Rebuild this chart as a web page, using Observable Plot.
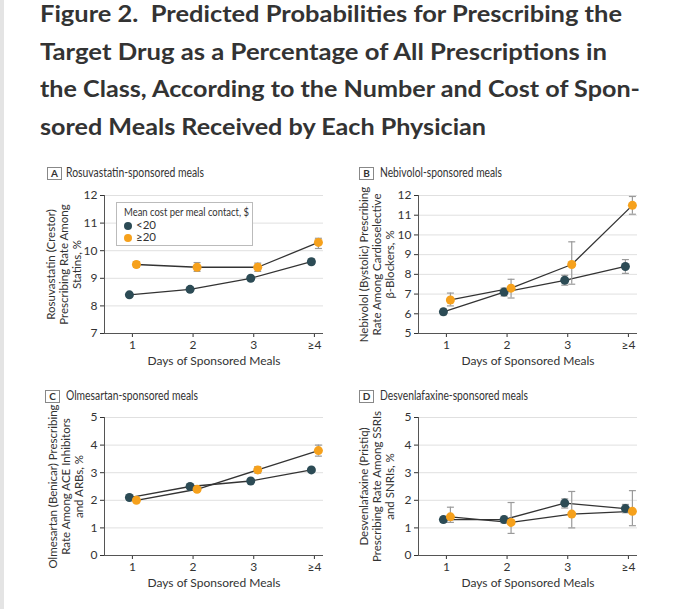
<!DOCTYPE html>
<html><head><meta charset="utf-8">
<script src="https://cdn.jsdelivr.net/npm/d3@7"></script>
<script src="https://cdn.jsdelivr.net/npm/@observablehq/plot@0.6"></script>
<style>
body{margin:0;background:#fff;font-family:Lato,"Noto Sans",sans-serif;color:#333}
#wrap{position:relative;width:680px;height:609px;overflow:hidden}
#strip{position:absolute;left:0;top:0;width:4px;height:609px;background:#e4e4e4}
.tl{position:absolute;left:40px;margin:0;font-size:22.5px;line-height:22.5px;font-weight:bold;color:#333;white-space:nowrap;transform-origin:0 0}
.hdr{position:absolute;font-size:12.5px;color:#333;white-space:nowrap;height:14px}
.hdr .box{position:absolute;left:0;top:0;width:13px;height:11px;border:1px solid #888;text-align:center;font-weight:bold;font-size:10px;line-height:11px}
.hdr .t{position:absolute;top:-1px;transform-origin:0 0;line-height:14px}
.panel{position:absolute}
#legend{position:absolute;left:116px;top:202px;width:137px;height:44px;border:1px solid #bbb;background:#fff;font-size:11.5px;line-height:12px;padding:0;box-sizing:border-box}
#legend .row{position:absolute;left:7px;white-space:nowrap;transform-origin:0 0}
#legend .dot{display:inline-block;width:8px;height:8px;border-radius:50%;margin-right:4px;vertical-align:-1px}
</style></head>
<body><div id="wrap">
<div id="strip"></div>
</div>
<script>
// ---- data ----
const titleLines = [
  "Figure 2.\u00a0 Predicted Probabilities for Prescribing the",
  "Target Drug as a Percentage of All Prescriptions in",
  "the Class, According to the Number and Cost of Spon-",
  "sored Meals Received by Each Physician"
];
const days = [1, 2, 3, 4];
const dayLabels = ["1", "2", "3", "≥4"];
const groups = ["<20", "≥20"];
const legendTitle = "Mean cost per meal contact, $";
const xTitle = "Days of Sponsored Meals";

const panelLetters = ["A", "B", "C", "D"];
const panelTitles = ["Rosuvastatin-sponsored meals", "Nebivolol-sponsored meals", "Olmesartan-sponsored meals", "Desvenlafaxine-sponsored meals"];
const yLabels = [
  "Rosuvastatin (Crestor)\nPrescribing Rate Among\nStatins, %",
  "Nebivolol (Bystolic) Prescribing\nRate Among Cardioselective\nβ-Blockers, %",
  "Olmesartan (Benicar) Prescribing\nRate Among ACE Inhibitors\nand ARBs, %",
  "Desvenlafaxine (Pristiq)\nPrescribing Rate Among SSRIs\nand SNRIs, %"
];
const yTicksA = [7, 8, 9, 10, 11, 12];
const yTicksB = [5, 6, 7, 8, 9, 10, 11, 12];
const yTicksC = [0, 1, 2, 3, 4, 5];
const yTicksD = [0, 1, 2, 3, 4, 5];

// A: Rosuvastatin
const rosuLowEst = [8.4, 8.6, 9.0, 9.6];
const rosuLowLo  = [8.33, 8.53, 8.93, 9.5];
const rosuLowHi  = [8.47, 8.67, 9.07, 9.7];
const rosuHighEst = [9.5, 9.4, 9.4, 10.3];
const rosuHighLo  = [9.4, 9.25, 9.25, 10.08];
const rosuHighHi  = [9.6, 9.57, 9.55, 10.45];
// B: Nebivolol
const nebiLowEst = [6.1, 7.1, 7.7, 8.4];
const nebiLowLo  = [5.95, 6.9, 7.45, 8.05];
const nebiLowHi  = [6.25, 7.3, 7.95, 8.75];
const nebiHighEst = [6.7, 7.3, 8.5, 11.5];
const nebiHighLo  = [6.4, 6.8, 7.5, 11.05];
const nebiHighHi  = [7.05, 7.75, 9.65, 11.95];
// C: Olmesartan
const olmeLowEst = [2.1, 2.5, 2.7, 3.1];
const olmeLowLo  = [2.05, 2.45, 2.65, 3.03];
const olmeLowHi  = [2.15, 2.55, 2.75, 3.17];
const olmeHighEst = [2.0, 2.4, 3.1, 3.8];
const olmeHighLo  = [1.95, 2.33, 2.98, 3.6];
const olmeHighHi  = [2.05, 2.47, 3.22, 4.0];
// D: Desvenlafaxine
const desvLowEst = [1.3, 1.3, 1.9, 1.7];
const desvLowLo  = [1.2, 1.18, 1.72, 1.55];
const desvLowHi  = [1.4, 1.42, 2.05, 1.85];
const desvHighEst = [1.4, 1.2, 1.5, 1.6];
const desvHighLo  = [1.2, 0.8, 1.0, 1.08];
const desvHighHi  = [1.75, 1.92, 2.32, 2.35];

// ---- styles ----
const colors = {"<20": "#2c4b55", "≥20": "#f6a11c"};
const offsets = {"<20": -3, "≥20": 4};
const FONT = 'Lato,"Noto Sans",sans-serif';

const wrap = document.getElementById("wrap");
function fit(el, target) {
  const w = el.getBoundingClientRect().width;
  el.style.transform = `scaleX(${target / w})`;
}

// title lines, each fitted to the reference line width
const titleRight = [622, 607, 640, 486];
titleLines.forEach((t, i) => {
  const d = document.createElement("div");
  d.className = "tl";
  d.textContent = t;
  d.style.top = (3 + i * 37.5) + "px";
  wrap.appendChild(d);
  fit(d, titleRight[i] - 40);
});

function rows(est, lo, hi, g) {
  return days.map((d, i) => ({day: d, est: est[i], lo: lo[i], hi: hi[i], group: g}));
}
const panels = [
  {low: rows(rosuLowEst, rosuLowLo, rosuLowHi, groups[0]), high: rows(rosuHighEst, rosuHighLo, rosuHighHi, groups[1]), ticks: yTicksA, left: 30, top: 185, hx: 47, tx: 66, hy: 167, tw: 138, w: 310, ml: 74, mr: 17, ldx: -41},
  {low: rows(nebiLowEst, nebiLowLo, nebiLowHi, groups[0]), high: rows(nebiHighEst, nebiHighLo, nebiHighHi, groups[1]), ticks: yTicksB, left: 340, top: 185, hx: 359, tx: 380, hy: 167, tw: 122, w: 330, ml: 78, mr: 33, ldx: -42},
  {low: rows(olmeLowEst, olmeLowLo, olmeLowHi, groups[0]), high: rows(olmeHighEst, olmeHighLo, olmeHighHi, groups[1]), ticks: yTicksC, left: 30, top: 407, hx: 45, tx: 66, hy: 390, tw: 132, w: 310, ml: 74, mr: 17, ldx: -39},
  {low: rows(desvLowEst, desvLowLo, desvLowHi, groups[0]), high: rows(desvHighEst, desvHighLo, desvHighHi, groups[1]), ticks: yTicksD, left: 340, top: 407, hx: 359, tx: 380, hy: 390, tw: 148, w: 330, ml: 78, mr: 33, ldx: -42}
];

const capSymbol = {draw(ctx, size) { const w = Math.sqrt(size / Math.PI); ctx.moveTo(-w, 0); ctx.lineTo(w, 0); }};

panels.forEach((p, k) => {
  const yMin = p.ticks[0], yMax = p.ticks[p.ticks.length - 1];
  const seriesMarks = [];
  for (const data of [p.low, p.high]) {
    const g = data[0].group;
    seriesMarks.push(Plot.line(data, {x: "day", y: "est", stroke: "#333", strokeWidth: 1.3, dx: offsets[g]}));
  }
  for (const data of [p.low, p.high]) {
    const g = data[0].group;
    seriesMarks.push(Plot.ruleX(data, {x: "day", y1: "lo", y2: "hi", stroke: "#9a9a9a", strokeWidth: 1.2, dx: offsets[g]}));
    seriesMarks.push(Plot.dot(data, {x: "day", y: "lo", symbol: capSymbol, r: 3.5, stroke: "#9a9a9a", strokeWidth: 1.2, dx: offsets[g]}));
    seriesMarks.push(Plot.dot(data, {x: "day", y: "hi", symbol: capSymbol, r: 3.5, stroke: "#9a9a9a", strokeWidth: 1.2, dx: offsets[g]}));
  }
  for (const data of [p.low, p.high]) {
    const g = data[0].group;
    seriesMarks.push(Plot.dot(data, {x: "day", y: "est", r: 4.5, fill: colors[g], stroke: "none", dx: offsets[g]}));
  }
  const chart = Plot.plot({
    width: p.w, height: 185,
    marginLeft: p.ml, marginRight: p.mr, marginTop: 10, marginBottom: 37,
    style: {fontFamily: FONT, fontSize: "12px", color: "#333", background: "transparent", overflow: "visible"},
    x: {type: "linear", domain: [0.54, 4.15], ticks: days, tickFormat: d => dayLabels[d - 1], tickSize: 4, tickPadding: 3, label: null},
    y: {domain: [yMin, yMax], ticks: p.ticks, tickFormat: d => String(d), tickSize: 4, tickPadding: 3, label: null},
    marks: [
      Plot.ruleY(p.ticks.slice(1), {stroke: "#e0e0e0", strokeWidth: 1}),
      Plot.ruleX([0.54], {stroke: "#555", strokeWidth: 1}),
      Plot.ruleY([yMin], {stroke: "#555", strokeWidth: 1}),
      ...seriesMarks,
      Plot.text([yLabels[k]], {text: d => d, frameAnchor: "left", textAnchor: "middle", lineAnchor: "middle", rotate: -90, dx: p.ldx, lineHeight: 1.12, fontSize: 11.5, fill: "#333"}),
      Plot.text([xTitle], {text: d => d, frameAnchor: "bottom", textAnchor: "middle", dy: 31, fontSize: 12, fill: "#333"})
    ]
  });
  const div = document.createElement("div");
  div.className = "panel";
  div.style.left = p.left + "px";
  div.style.top = p.top + "px";
  div.appendChild(chart);
  wrap.appendChild(div);

  const hdr = document.createElement("div");
  hdr.className = "hdr";
  hdr.style.left = p.hx + "px";
  hdr.style.top = p.hy + "px";
  hdr.innerHTML = `<span class="box">${panelLetters[k]}</span><span class="t" style="left:${p.tx - p.hx}px">${panelTitles[k]}</span>`;
  wrap.appendChild(hdr);
  fit(hdr.querySelector(".t"), p.tw);
});

// legend in panel A
const legend = document.createElement("div");
legend.id = "legend";
legend.innerHTML = `<div class="row" style="top:3px">${legendTitle}</div>` +
  groups.map((g, i) => `<div class="row" style="top:${16 + i * 12}px"><span class="dot" style="background:${colors[g]}"></span>${g.replace("<", "&lt;")}</div>`).join("");
wrap.appendChild(legend);
fit(legend.querySelector(".row"), 125);
</script>
</body></html>
